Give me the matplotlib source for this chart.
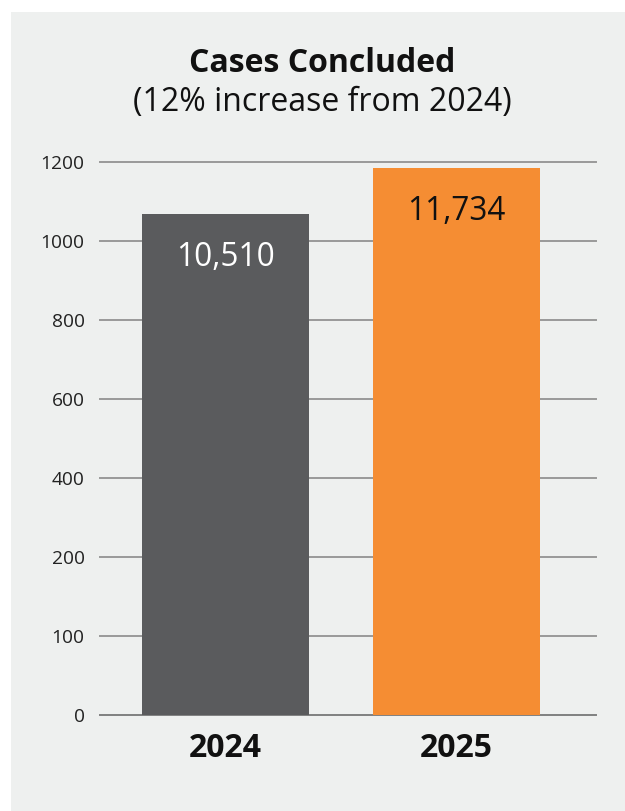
import matplotlib
matplotlib.use("Agg")
import matplotlib.pyplot as plt
from matplotlib.patches import Rectangle

categories = ["2024", "2025"]
value_labels = ["10,510", "11,734"]
bar_heights = [6.34, 6.92]          # in tick-position units, as drawn
tick_labels = ["0", "100", "200", "400", "600", "800", "1000", "1200"]
bar_colors = ["#5a5b5d", "#f58d33"]
label_colors = ["white", "#111111"]

plt.rcParams['font.family'] = ['Open Sans', 'DejaVu Sans']

W, H = 625, 811
fig = plt.figure(figsize=(W / 100, H / 100), dpi=100, facecolor="white")
bg = Rectangle((11 / W, 0), 1, 1 - 12 / H, transform=fig.transFigure,
               facecolor="#eef0ef", edgecolor="none", zorder=-10)
fig.patches.append(bg)

ax = fig.add_axes([100 / W, 1 - 715 / H, 496 / W, (715 - 162) / H])
ax.set_zorder(5)
ax.set_facecolor("none")

x = list(range(len(categories)))
bars = ax.bar(x, bar_heights, width=0.723, color=bar_colors, zorder=3)

ax.set_xlim(-0.543, 1.604)
ax.set_ylim(0, len(tick_labels) - 1)
ax.set_yticks(range(len(tick_labels)))
ax.set_yticklabels(tick_labels, fontsize=13.8, color="#222222")
for i in range(len(tick_labels)):
    ax.axhline(i, color="#999999" if i > 0 else "#808080", lw=1.4, zorder=1, clip_on=False)

ax.set_xticks(x)
ax.set_xticklabels(categories, fontsize=23, fontweight="bold", color="#111111")
ax.tick_params(axis="both", length=0)
ax.tick_params(axis="y", pad=11)
ax.tick_params(axis="x", pad=12)
for s in ax.spines.values():
    s.set_visible(False)

for b, lab, c in zip(bars, value_labels, label_colors):
    ax.annotate(lab, (b.get_x() + b.get_width() / 2, b.get_height()),
                xytext=(0, -19), textcoords="offset points", ha="center", va="top",
                fontsize=22.7, color=c, zorder=4)

cx = 322.5 / W
fig.text(cx, 1 - 63 / H, "Cases Concluded", ha="center", va="center",
         fontsize=23, fontweight="bold", color="#111111", zorder=6)
fig.text(cx, 1 - 102 / H, "(12% increase from 2024)", ha="center", va="center",
         fontsize=23, color="#111111", zorder=6)

fig.savefig("out.png", dpi=100, facecolor="white")
